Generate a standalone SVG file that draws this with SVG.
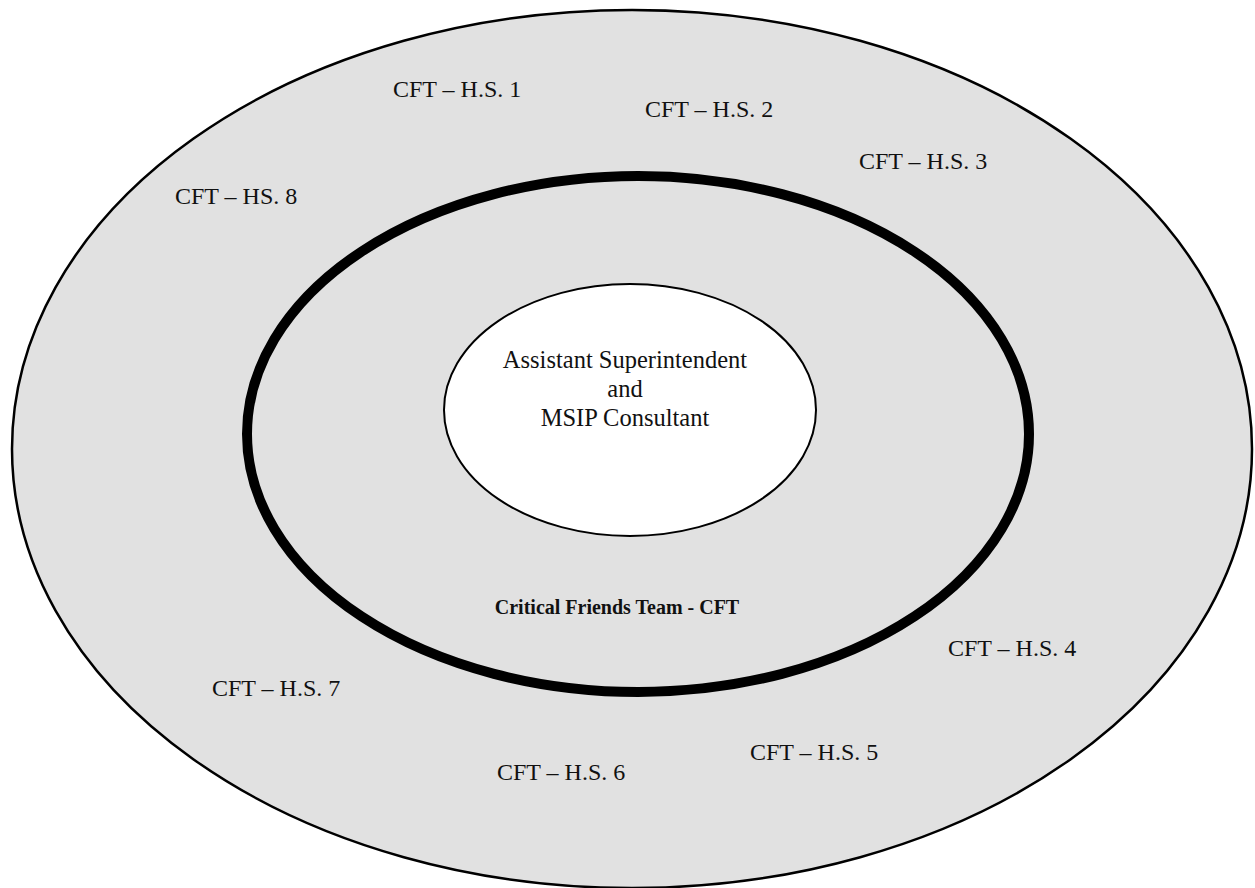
<svg xmlns="http://www.w3.org/2000/svg" width="1255" height="888" viewBox="0 0 1255 888">
  <style>
    .ring { fill: #e1e1e1; stroke: #000; }
    .lbl { font-family: "Liberation Serif", "Times New Roman", serif; font-size: 24px; fill: #111; }
    .core { font-family: "Liberation Serif", "Times New Roman", serif; font-size: 24.5px; fill: #111; text-anchor: middle; }
    .team { font-family: "Liberation Serif", "Times New Roman", serif; font-size: 20px; font-weight: bold; fill: #111; text-anchor: middle; }
  </style>
  <rect width="1255" height="888" fill="#ffffff"/>

  <!-- outer ring: high school teams -->
  <g id="outer-ring">
    <ellipse class="ring" cx="632" cy="449" rx="620" ry="439" stroke-width="2.5"/>
  </g>

  <!-- Critical Friends Team boundary -->
  <g id="cft-ring">
    <ellipse class="ring" cx="638" cy="434" rx="391" ry="258" stroke-width="10"/>
    <text class="team" x="617" y="614">Critical Friends Team - CFT</text>
  </g>

  <!-- central leadership -->
  <g id="core">
    <ellipse cx="630" cy="410" rx="186" ry="126" fill="#ffffff" stroke="#000" stroke-width="2"/>
    <text class="core" x="625" y="368">Assistant Superintendent</text>
    <text class="core" x="625" y="397">and</text>
    <text class="core" x="625" y="426">MSIP Consultant</text>
  </g>

  <!-- high school teams -->
  <g id="hs1"><text class="lbl" x="393" y="97">CFT – H.S. 1</text></g>
  <g id="hs2"><text class="lbl" x="645" y="117">CFT – H.S. 2</text></g>
  <g id="hs3"><text class="lbl" x="859" y="169">CFT – H.S. 3</text></g>
  <g id="hs4"><text class="lbl" x="948" y="656">CFT – H.S. 4</text></g>
  <g id="hs5"><text class="lbl" x="750" y="760">CFT – H.S. 5</text></g>
  <g id="hs6"><text class="lbl" x="497" y="780">CFT – H.S. 6</text></g>
  <g id="hs7"><text class="lbl" x="212" y="696">CFT – H.S. 7</text></g>
  <g id="hs8"><text class="lbl" x="175" y="204">CFT – HS. 8</text></g>

  <!-- no connectors in this figure -->
  <g id="connectors"/>
</svg>
